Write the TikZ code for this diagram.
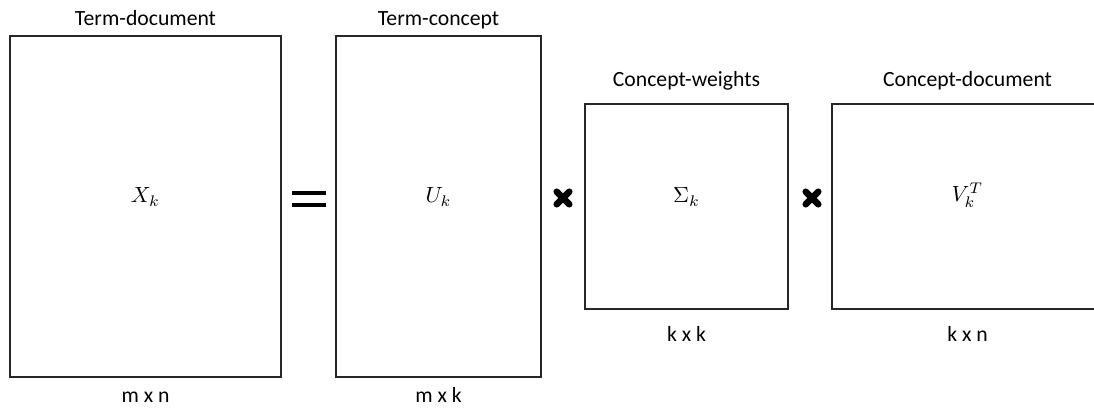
\documentclass[tikz,border=0pt]{standalone}
\usepackage{fontspec}
\setmainfont{Carlito}
\begin{document}
\begin{tikzpicture}[x=1pt,y=-1pt,
  mbox/.style={draw=black!85,line width=1.3pt,inner sep=0pt,fill=white},
  ttl/.style={anchor=base,font=\fontsize{21.7}{26}\selectfont},
  dim/.style={anchor=base,font=\fontsize{21.7}{26}\selectfont},
  mth/.style={transform shape,scale=2.2}]
\useasboundingbox (0,0) rectangle (1094,412);
\fill[white] (0,0) rectangle (1094,412);
\clip (0,0) rectangle (1094,412);
% boxes
\node[mbox,minimum width=271pt,minimum height=341pt] (X) at (145.5,206.5) {};
\node[mbox,minimum width=205pt,minimum height=341pt] (U) at (438.5,206.5) {};
\node[mbox,minimum width=203pt,minimum height=205pt] (S) at (686.5,206.5) {};
\node[mbox,minimum width=271pt,minimum height=205pt] (V) at (967.5,206.5) {};
% math
\node[mth] (Xt) at (145.5,197) {$X_k$};
\node[mth] (Ut) at (438.5,197) {$U_k$};
\node[mth] (St) at (686.5,197) {$\Sigma_k$};
\node[mth] (Vt) at (967.5,195) {$V_k^T$};
% titles
\node[ttl] (Xh) at (145.5,26) {Term-document};
\node[ttl] (Uh) at (438.5,26) {Term-concept};
\node[ttl] (Sh) at (686.5,86) {Concept-weights};
\node[ttl] (Vh) at (967.5,86) {Concept-document};
% dimensions
\node[dim] (Xd) at (145.5,402) {m x n};
\node[dim] (Ud) at (438.5,402) {m x k};
\node[dim] (Sd) at (686.5,341) {k x k};
\node[dim] (Vd) at (967.5,341) {k x n};
% equals sign
\fill[black] (292,190.7) rectangle (326,195.3);
\fill[black] (292,202.7) rectangle (326,207.3);
% multiplication crosses
\foreach \cx in {563,812}{
  \draw[line width=6.5pt,line cap=round] (\cx-6.3,191.7) -- (\cx+6.3,204.3);
  \draw[line width=6.5pt,line cap=round] (\cx-6.3,204.3) -- (\cx+6.3,191.7);
}
\end{tikzpicture}
\end{document}
